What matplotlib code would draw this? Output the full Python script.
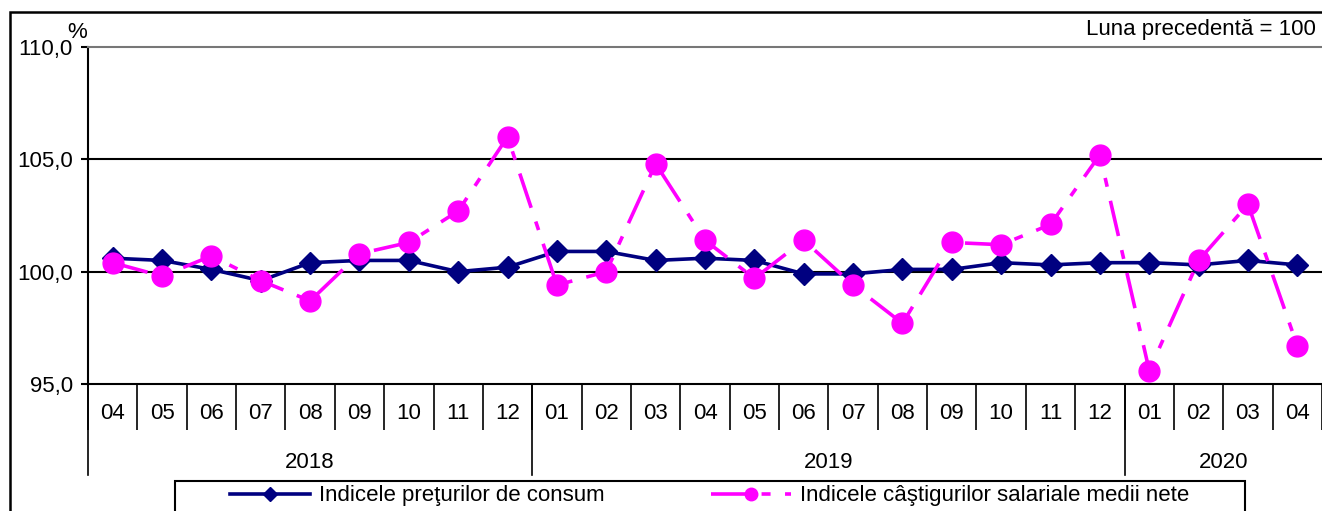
import matplotlib
matplotlib.use('Agg')
import matplotlib.pyplot as plt
import matplotlib.transforms as mtransforms
from matplotlib.patches import Rectangle

plt.rcParams['font.family'] = ['Liberation Sans', 'DejaVu Sans']

# Data
months = ['04', '05', '06', '07', '08', '09', '10', '11', '12',
          '01', '02', '03', '04', '05', '06', '07', '08', '09', '10', '11', '12',
          '01', '02', '03', '04']
years = ['2018', '2019', '2020']
year_counts = [9, 12, 4]
cpi = [100.6, 100.5, 100.1, 99.6, 100.4, 100.5, 100.5, 100.0, 100.2,
       100.9, 100.9, 100.5, 100.6, 100.5, 99.9, 99.9, 100.1, 100.1, 100.4, 100.3, 100.4,
       100.4, 100.3, 100.5, 100.3]
wages = [100.4, 99.8, 100.7, 99.6, 98.7, 100.8, 101.3, 102.7, 106.0,
         99.4, 100.0, 104.8, 101.4, 99.7, 101.4, 99.4, 97.7, 101.3, 101.2, 102.1, 105.2,
         95.6, 100.5, 103.0, 96.7]
yticks = [95, 100, 105, 110]
ytick_labels = ['95,0', '100,0', '105,0', '110,0']

FS = 16
W, H = 1322, 511
fig = plt.figure(figsize=(W / 100, H / 100), dpi=100)
ax = fig.add_axes([88 / W, (H - 384) / H, (W - 88) / W, (384 - 47) / H])

x = list(range(len(months)))
ax.plot(x, cpi, color='#000080', lw=2.6, marker='D', ms=11.5, zorder=3,
        label='Indicele preţurilor de consum')
ax.plot(x, wages, color='#FF00FF', lw=2.6, marker='o', ms=15, zorder=4,
        linestyle=(0, (10, 4, 2.5, 4)),
        label='Indicele câştigurilor salariale medii nete')

ax.set_xlim(-0.5, len(months) - 0.5)
ax.set_ylim(95, 110)
ax.set_yticks(yticks)
ax.set_yticklabels(ytick_labels, fontsize=FS)
ax.tick_params(axis='y', direction='out', length=5, width=1.5, pad=6)
for yv in [100, 105]:
    ax.axhline(yv, color='black', lw=1.5, zorder=1)

# category axis: month cells
ax.set_xticks([i - 0.5 for i in range(len(months) + 1)])
ax.set_xticklabels([])
ax.tick_params(axis='x', direction='out', length=33, width=1.2)
ax.set_xticks(x, minor=True)
ax.set_xticklabels(months, minor=True, fontsize=FS)
ax.tick_params(axis='x', which='minor', length=0, pad=14)

# year separators and labels
trans = mtransforms.blended_transform_factory(ax.transData, ax.transAxes)
bounds = [-0.5]
for c in year_counts:
    bounds.append(bounds[-1] + c)
for b in bounds[:-1]:
    ax.plot([b, b], [0, -91 / 337], transform=trans, color='black', lw=1.2,
            clip_on=False)
for i, yr in enumerate(years):
    mid = (bounds[i] + bounds[i + 1]) / 2
    ax.text(mid, -78 / 337, yr, transform=trans, ha='center', va='center',
            fontsize=FS)

for s in ['left', 'bottom']:
    ax.spines[s].set_linewidth(1.5)
ax.spines['top'].set_color('#777777')
ax.spines['top'].set_linewidth(1.5)
ax.spines['right'].set_visible(False)

fig.text(77 / W, 1 - 32 / H, '%', ha='center', va='center', fontsize=FS)
fig.text(1316 / W, 1 - 30 / H, 'Luna precedentă = 100', ha='right', va='center',
         fontsize=FS)

# outer frame
fig.patches.append(Rectangle((10 / W, -0.1), 1.1, 1 - 12 / H + 0.1,
                             transform=fig.transFigure, fill=False,
                             edgecolor='black', lw=1.8))
# legend box
fig.patches.append(Rectangle((175 / W, -0.1), (1245 - 175) / W, 1 - 481 / H + 0.1,
                             transform=fig.transFigure, fill=False,
                             edgecolor='black', lw=1.5))
leg = fig.legend(loc='center left', bbox_to_anchor=(230 / W, 1 - 496 / H),
                 ncol=2, frameon=False, fontsize=FS, handlelength=3.6,
                 handletextpad=0.4, columnspacing=4.8, borderpad=0,
                 borderaxespad=0, markerscale=0.6)

fig.savefig('out.png', dpi=100)
